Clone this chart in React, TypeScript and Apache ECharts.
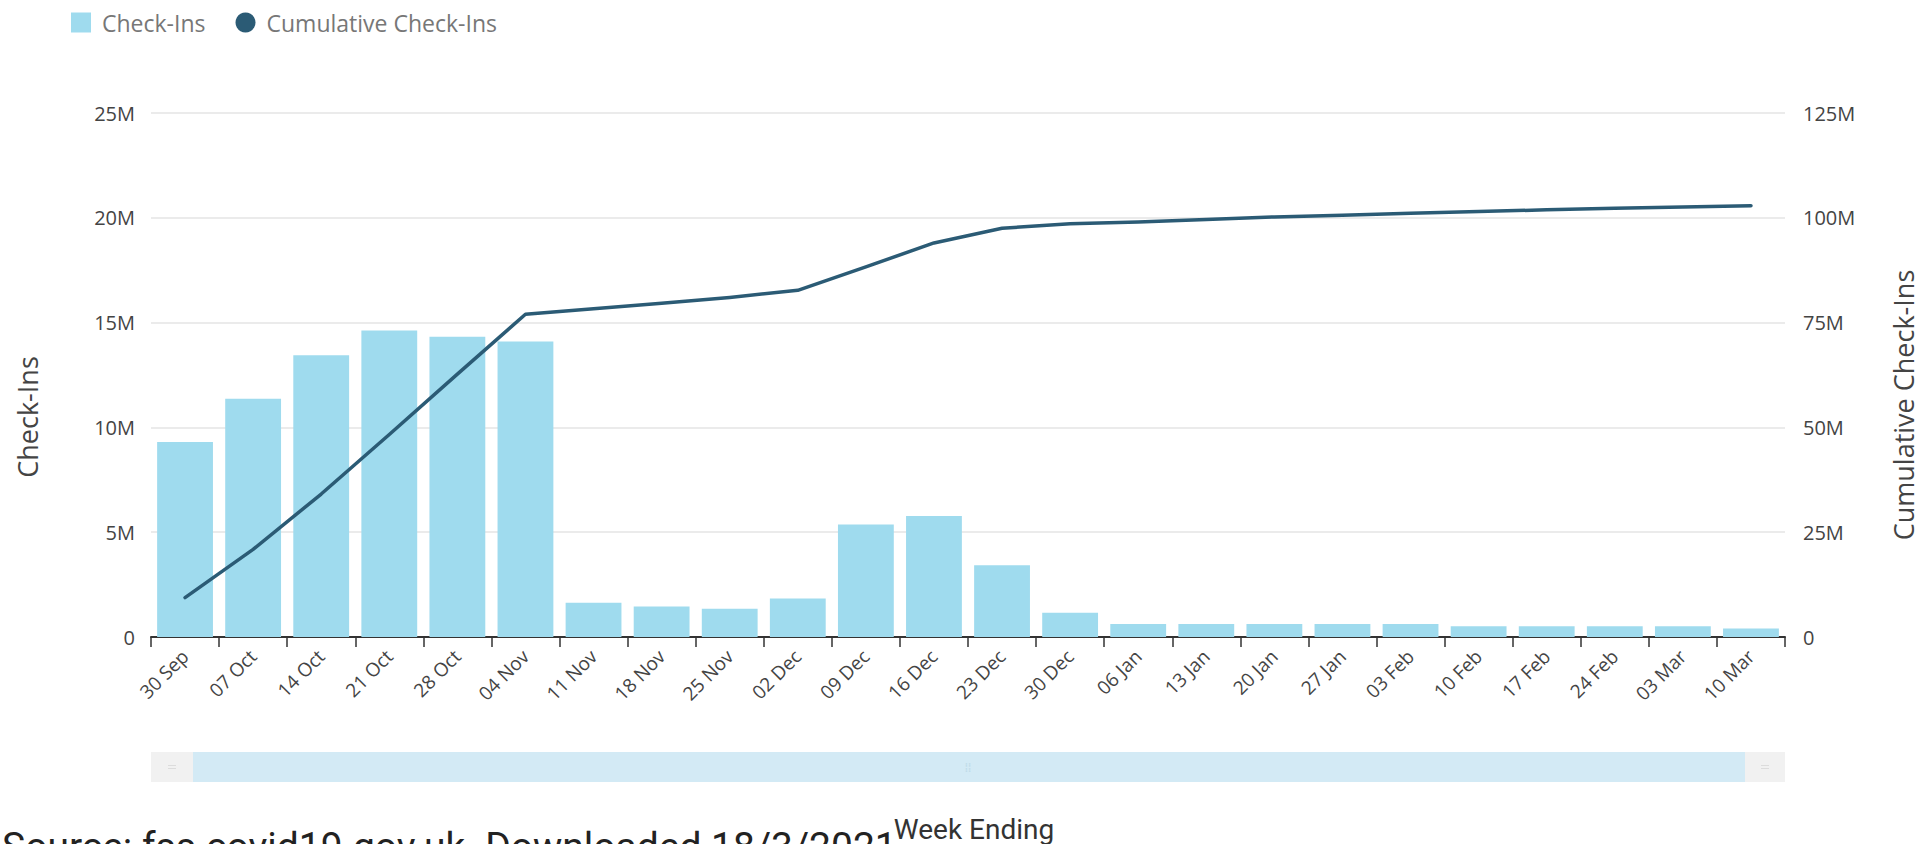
import React, { useEffect, useRef } from "react";
import * as echarts from "echarts";

const weeks = [
  "30 Sep", "07 Oct", "14 Oct", "21 Oct", "28 Oct", "04 Nov", "11 Nov", "18 Nov",
  "25 Nov", "02 Dec", "09 Dec", "16 Dec", "23 Dec", "30 Dec", "06 Jan", "13 Jan",
  "20 Jan", "27 Jan", "03 Feb", "10 Feb", "17 Feb", "24 Feb", "03 Mar", "10 Mar",
];

// weekly check-ins, millions
const checkIns = [
  9.3, 11.37, 13.44, 14.62, 14.33, 14.1, 1.64, 1.45, 1.35, 1.84, 5.37, 5.77,
  3.42, 1.16, 0.62, 0.62, 0.62, 0.62, 0.62, 0.51, 0.51, 0.51, 0.51, 0.41,
];

// cumulative check-ins, millions
const cumulative = [
  9.4, 20.9, 34.1, 48.3, 62.7, 77.0, 78.3, 79.6, 81.0, 82.7, 88.3, 94.0,
  97.5, 98.6, 99.0, 99.6, 100.2, 100.6, 101.1, 101.5, 101.9, 102.3, 102.6, 102.9,
];

const leftTicks = { min: 0, max: 25, interval: 5 };
const rightTicks = { min: 0, max: 125, interval: 25 };

const seriesNames = ["Check-Ins", "Cumulative Check-Ins"];
const axisTitles = { x: "Week Ending", left: "Check-Ins", right: "Cumulative Check-Ins" };
const sourceNote = "Source: fss.covid19.gov.uk. Downloaded 18/3/2021";

const FONT = "'Open Sans', 'Noto Sans', sans-serif";
const BAR_COLOR = "#9fdbee";
const LINE_COLOR = "#2b5b75";

const fmtM = (v: number) => (v === 0 ? "0" : `${v}M`);

export default function App() {
  const ref = useRef<HTMLDivElement>(null);

  useEffect(() => {
    if (!ref.current) return;
    const chart = echarts.init(ref.current, null, { renderer: "svg" });

    const plotLeft = 151;
    const plotRight = 1785;
    const sliderY = 752;
    const sliderH = 30;

    chart.setOption({
      animation: false,
      backgroundColor: "#ffffff",
      textStyle: { fontFamily: FONT },
      legend: {
        left: 66,
        top: 6,
        itemWidth: 20,
        itemHeight: 20,
        itemGap: 30,
        textStyle: { color: "#777", fontSize: 23, fontFamily: FONT, padding: [0, 0, 0, 6] },
        data: [
          { name: seriesNames[0], icon: "rect" },
          { name: seriesNames[1], icon: "circle" },
        ],
      },
      grid: { left: plotLeft, right: 1927 - plotRight, top: 113, bottom: 844 - 637, containLabel: false },
      xAxis: {
        type: "category",
        data: weeks,
        boundaryGap: true,
        axisLine: { show: true, lineStyle: { color: "#333", width: 2 } },
        axisTick: { show: true, length: 10, lineStyle: { color: "#333", width: 1.5 } },
        axisLabel: { rotate: 45, interval: 0, fontSize: 19, color: "#444", margin: 16, fontFamily: FONT },
        splitLine: { show: false },
      },
      yAxis: [
        {
          type: "value",
          min: leftTicks.min,
          max: leftTicks.max,
          interval: leftTicks.interval,
          axisLine: { show: false },
          axisTick: { show: false },
          axisLabel: { formatter: fmtM, fontSize: 20, color: "#444", margin: 16, fontFamily: FONT },
          splitLine: { show: true, lineStyle: { color: "#e4e4e4", width: 1.5 } },
        },
        {
          type: "value",
          min: rightTicks.min,
          max: rightTicks.max,
          interval: rightTicks.interval,
          axisLine: { show: false },
          axisTick: { show: false },
          axisLabel: { formatter: fmtM, fontSize: 20, color: "#444", margin: 18, fontFamily: FONT },
          splitLine: { show: false },
        },
      ],
      series: [
        {
          name: seriesNames[0],
          type: "bar",
          data: checkIns,
          yAxisIndex: 0,
          barCategoryGap: "18%",
          itemStyle: { color: BAR_COLOR },
        },
        {
          name: seriesNames[1],
          type: "line",
          data: cumulative,
          yAxisIndex: 1,
          showSymbol: false,
          symbol: "circle",
          itemStyle: { color: LINE_COLOR },
          lineStyle: { color: LINE_COLOR, width: 3.5, cap: "round", join: "round" },
        },
      ],
      graphic: [
        {
          type: "text",
          x: 27,
          y: 417,
          rotation: Math.PI / 2,
          style: {
            text: axisTitles.left,
            fill: "#444",
            font: `27px ${FONT}`,
            align: "center",
            verticalAlign: "middle",
          },
        },
        {
          type: "text",
          x: 1903,
          y: 405,
          rotation: Math.PI / 2,
          style: {
            text: axisTitles.right,
            fill: "#444",
            font: `27px ${FONT}`,
            align: "center",
            verticalAlign: "middle",
          },
        },
        // slider track
        {
          type: "rect",
          shape: { x: plotLeft, y: sliderY, width: plotRight - plotLeft, height: sliderH },
          style: { fill: "#f1f1f1" },
        },
        {
          type: "rect",
          shape: { x: plotLeft + 42, y: sliderY, width: plotRight - plotLeft - 82, height: sliderH },
          style: { fill: "#d3eaf5" },
        },
        {
          type: "rect",
          shape: { x: plotLeft + 17, y: sliderY + 13, width: 8, height: 1 },
          style: { fill: "#dcdcdc" },
        },
        {
          type: "rect",
          shape: { x: plotLeft + 17, y: sliderY + 16, width: 8, height: 1 },
          style: { fill: "#dcdcdc" },
        },
        {
          type: "rect",
          shape: { x: plotRight - 24, y: sliderY + 13, width: 8, height: 1 },
          style: { fill: "#dcdcdc" },
        },
        {
          type: "rect",
          shape: { x: plotRight - 24, y: sliderY + 16, width: 8, height: 1 },
          style: { fill: "#dcdcdc" },
        },
        {
          type: "text",
          x: (plotLeft + plotRight) / 2,
          y: sliderY + sliderH / 2,
          style: {
            text: "⁞⁞",
            fill: "#bfdbe8",
            font: `12px ${FONT}`,
            align: "center",
            verticalAlign: "middle",
          },
        },
        {
          type: "text",
          x: 974,
          y: 829,
          style: {
            text: axisTitles.x,
            fill: "#333",
            font: `28px Roboto, sans-serif`,
            align: "center",
            verticalAlign: "middle",
          },
        },
        {
          type: "text",
          x: 2,
          y: 847,
          style: {
            text: sourceNote,
            fill: "#222",
            font: `39px Roboto, sans-serif`,
            align: "left",
            verticalAlign: "middle",
          },
        },
      ],
    });

    return () => chart.dispose();
  }, []);

  return (
    <div
      ref={ref}
      style={{ position: "absolute", left: 0, top: 0, width: 1927, height: 844, background: "#fff" }}
    />
  );
}
